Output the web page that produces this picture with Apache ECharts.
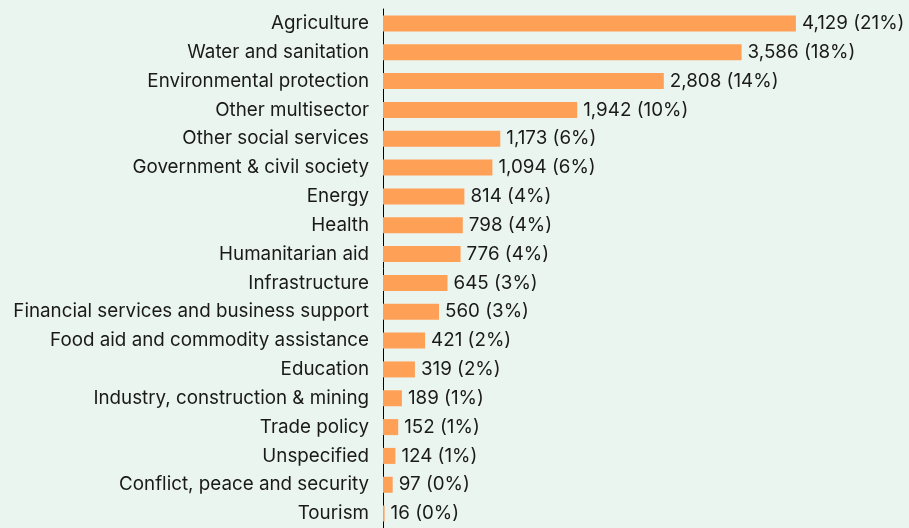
<!DOCTYPE html>
<html>
<head>
<meta charset="utf-8">
<script src="https://cdn.jsdelivr.net/npm/echarts@6/dist/echarts.min.js"></script>
<style>
  html, body { margin: 0; padding: 0; background: #ebf5f0; }
  #chart { width: 909px; height: 528px; }
</style>
</head>
<body>
<div id="chart"></div>
<script>
  // 分类与数值
  const categories = [
    'Agriculture', 'Water and sanitation', 'Environmental protection', 'Other multisector',
    'Other social services', 'Government & civil society', 'Energy', 'Health',
    'Humanitarian aid', 'Infrastructure', 'Financial services and business support',
    'Food aid and commodity assistance', 'Education', 'Industry, construction & mining',
    'Trade policy', 'Unspecified', 'Conflict, peace and security', 'Tourism'
  ]
  const values = [4129, 3586, 2808, 1942, 1173, 1094, 814, 798, 776, 645, 560, 421, 319, 189, 152, 124, 97, 16]
  const shares = [21, 18, 14, 10, 6, 6, 4, 4, 4, 3, 3, 2, 2, 1, 1, 1, 0, 0]

  const font = 'Inter, "Noto Sans", sans-serif'
  const chart = echarts.init(document.getElementById('chart'))
  chart.setOption({
    backgroundColor: '#ebf5f0',
    animation: false,
    grid: {
      left: 383,
      top: 9,
      width: 500,
      height: 525
    },
    xAxis: {
      type: 'value',
      min: 0,
      max: 5000,
      show: false
    },
    yAxis: {
      type: 'category',
      inverse: true,
      data: categories,
      axisTick: { show: false },
      axisLine: { lineStyle: { color: '#000', width: 1 } },
      axisLabel: {
        margin: 14,
        color: '#1a1a1a',
        fontSize: 18.8,
        fontFamily: font
      }
    },
    series: [{
      type: 'bar',
      data: values,
      barWidth: 16,
      itemStyle: { color: '#ffa057' },
      label: {
        show: true,
        position: 'right',
        distance: 6,
        color: '#1a1a1a',
        fontSize: 18.8,
        fontFamily: font,
        formatter (p) {
          return p.value.toLocaleString('en-US') + ' (' + shares[p.dataIndex] + '%)'
        }
      }
    }]
  })
</script>
</body>
</html>
